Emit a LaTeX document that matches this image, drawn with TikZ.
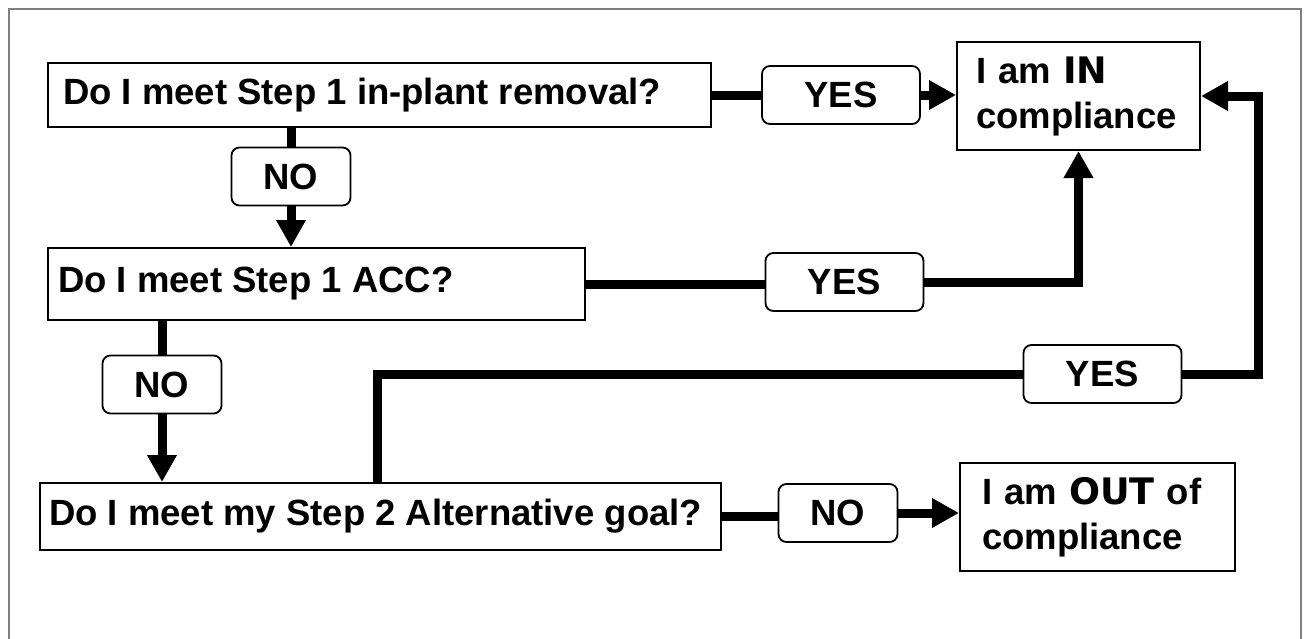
\documentclass[tikz,border=0pt]{standalone}
\usepackage{fontspec}
\setmainfont{Liberation Sans}
\newfontfamily\heavy{DejaVu Sans}
\usetikzlibrary{arrows.meta}
\tikzset{
  every node/.style={font=\fontsize{36.5}{45}\selectfont\bfseries},
  qbox/.style={draw, line width=2pt, anchor=north west, align=left, inner ysep=0pt},
  lab/.style={draw, line width=1.8pt, rounded corners=8pt, fill=white, inner sep=0pt, minimum height=58pt},
  yeslab/.style={lab, minimum width=158pt},
  nolab/.style={lab, minimum width=119pt},
  conn/.style={line width=9pt},
  arr/.style={conn, -{Triangle[length=27pt,width=28pt]}},
  frame/.style={draw=black!50, line width=1.5pt}
}
\begin{document}
\begin{tikzpicture}[x=1pt,y=-1pt]
\useasboundingbox (0,0) rectangle (1304,638);
\draw[frame] (9,640) -- (9,9) -- (1301,9) -- (1301,640);

% question boxes
\node[qbox, inner xsep=15pt, minimum height=64pt] (Q1) at (47,62) {\makebox[633pt][l]{Do I meet Step 1 in-plant removal?}};
\node[qbox, inner xsep=10pt, minimum height=72pt] (Q2) at (47,247) {\makebox[517pt][l]{Do I meet Step 1 ACC?}};
\node[qbox, inner xsep=9pt, minimum height=67pt] (Q3) at (39,482) {\makebox[663pt][l]{Do I meet my Step 2 Alternative goal?}};

% result boxes
\node[qbox, inner xsep=19pt, text width=205pt, minimum height=108pt] (IN) at (956,41) {I am {\heavy IN}\\compliance};
\node[qbox, inner xsep=22pt, text width=231pt, minimum height=108pt] (OUT) at (959,462) {I am {\heavy OUT} of\\compliance};

% labels
\node[yeslab] (YES1) at (841,95) {YES};
\node[nolab]  (NO1)  at (291,176.5) {NO};
\node[yeslab] (YES2) at (844.5,282) {YES};
\node[nolab]  (NO2)  at (162,384.5) {NO};
\node[yeslab] (YES3) at (1102.5,374) {YES};
\node[nolab]  (NO3)  at (838,513) {NO};

\path (Q3.north west) ++(338,0) coordinate (tap);
\coordinate (rloop) at (1258,374);

% connectors
\draw[conn] (Q1.east) -- (Q1.east -| YES1.west);
\draw[arr]  (YES1.east) -- (YES1.east -| IN.west);

\draw[conn] (Q1.south -| NO1.north) -- (NO1.north);
\draw[arr]  (NO1.south) -- (NO1.south |- Q2.north);

\draw[conn] (Q2.east) -- (Q2.east -| YES2.west);
\draw[arr]  (YES2.east) -| (IN.south);

\draw[conn] (Q2.south -| NO2.north) -- (NO2.north);
\draw[arr]  (NO2.south) -- (NO2.south |- Q3.north);

\draw[conn] (tap) |- (YES3.west);
\draw[arr]  (YES3.east) -- (rloop) |- (IN.east);

\draw[conn] (Q3.east) -- (Q3.east -| NO3.west);
\draw[arr]  (NO3.east) -- (NO3.east -| OUT.west);
\end{tikzpicture}
\end{document}
